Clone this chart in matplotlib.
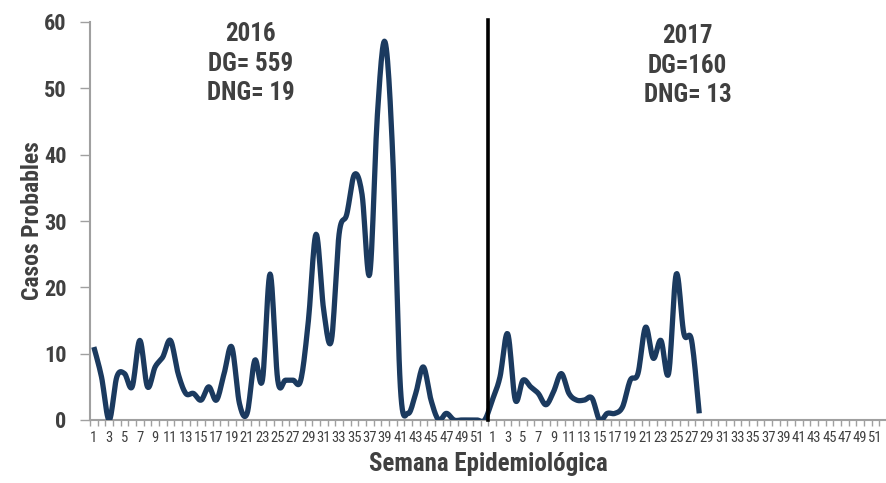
import numpy as np
import matplotlib
matplotlib.use("Agg")
import matplotlib.pyplot as plt
from matplotlib import font_manager

# weekly probable cases, 2016 then 2017 (2017 reported up to week 28)
weeks = list(range(1, 53))
cases_2016 = [11, 6.5, 0, 6.5, 7, 5, 12, 5, 8, 9.5, 12, 7, 4, 4, 3, 5, 3, 7, 11, 2.5,
              1, 9, 6, 22, 6, 6, 6, 6, 15, 28, 16.5, 12, 28, 31, 37, 34, 22, 46, 57, 40,
              5, 1, 4, 8, 3, 0, 1, 0, 0, 0, 0, 0]
cases_2017 = [3, 6.5, 13, 3, 6, 5, 4, 2.3, 4.3, 7, 4, 3, 3, 3.3, 0, 1, 1, 2, 6, 7,
              14, 9.3, 12, 7, 22, 13, 12, 1]
notes = ["2016\nDG= 559\nDNG= 19", "2017\nDG=160\nDNG= 13"]

fams = {f.name for f in font_manager.fontManager.ttflist}
font = "DejaVu Sans"
for cand in ["Roboto Condensed", "Open Sans Condensed", "Liberation Sans Narrow", "DejaVu Sans"]:
    if cand in fams:
        font = cand
        break
plt.rcParams["font.family"] = [font, "DejaVu Sans"]
plt.rcParams["font.stretch"] = "condensed"
txt = "#404040"
navy = "#1B3A5F"


def smooth(x, y, n=12):
    # Catmull-Rom style curve like a spreadsheet "smoothed line"
    x = np.asarray(x, float)
    y = np.asarray(y, float)
    px = np.concatenate([[x[0]], x, [x[-1]]])
    py = np.concatenate([[y[0]], y, [y[-1]]])
    xs, ys = [], []
    t = np.linspace(0, 1, n, endpoint=False)
    for i in range(1, len(px) - 2):
        p0, p1, p2, p3 = py[i - 1], py[i], py[i + 1], py[i + 2]
        q0, q1, q2, q3 = px[i - 1], px[i], px[i + 1], px[i + 2]
        b1y, b2y = p1 + (p2 - p0) / 6, p2 - (p3 - p1) / 6
        b1x, b2x = q1 + (q2 - q0) / 6, q2 - (q3 - q1) / 6
        xs.extend((1 - t) ** 3 * q1 + 3 * (1 - t) ** 2 * t * b1x + 3 * (1 - t) * t ** 2 * b2x + t ** 3 * q2)
        ys.extend((1 - t) ** 3 * p1 + 3 * (1 - t) ** 2 * t * b1y + 3 * (1 - t) * t ** 2 * b2y + t ** 3 * p2)
    xs.append(x[-1])
    ys.append(y[-1])
    return np.array(xs), np.array(ys)


values = cases_2016 + cases_2017
pos = np.arange(len(values))
n_cat = 2 * len(weeks)
labels = [str(w) if w % 2 == 1 else "" for w in weeks] * 2

fig = plt.figure(figsize=(8.87, 4.83), dpi=100)
ax = fig.add_axes([90 / 887, 63 / 483, 797 / 887, 398 / 483])

sx, sy = smooth(pos, values)
ax.plot(sx, sy, color=navy, lw=3.8, solid_capstyle="butt", zorder=3)
ax.axvline(51.5, ymin=0, ymax=1.005, color="black", lw=2.6, clip_on=False, zorder=4)

ax.set_xlim(-0.5, n_cat - 0.5)
ax.set_ylim(0, 60)
ax.set_yticks(range(0, 61, 10))
ax.set_xticks(np.arange(n_cat))
ax.set_xticklabels(labels)
ax.set_xticks(np.arange(-0.5, n_cat), minor=True)
ax.tick_params(axis="x", which="major", length=0, pad=8, labelsize=10.5, labelcolor=txt)
ax.tick_params(axis="x", which="minor", length=4, color="#A0A0A0", width=1)
ax.tick_params(axis="y", length=7, color="#A0A0A0", width=1, labelsize=16, labelcolor=txt, pad=10)
for t in ax.get_yticklabels():
    t.set_fontweight("bold")
for s in ["top", "right"]:
    ax.spines[s].set_visible(False)
for s in ["left", "bottom"]:
    ax.spines[s].set_color("#A0A0A0")
    ax.spines[s].set_linewidth(1.5)

ax.set_ylabel("Casos Probables", fontsize=17, fontweight="bold", color=txt)
ax.yaxis.set_label_coords(-0.058, 0.5)
ax.set_xlabel("Semana Epidemiológica", fontsize=18, fontweight="bold", color=txt, labelpad=5)

ax.text(20.5, 60, notes[0], ha="center", va="top", fontsize=18, fontweight="bold",
        color=txt, linespacing=1.3)
ax.text(77.5, 59.7, notes[1], ha="center", va="top", fontsize=18, fontweight="bold",
        color=txt, linespacing=1.3)

fig.savefig("out.png", dpi=100)
